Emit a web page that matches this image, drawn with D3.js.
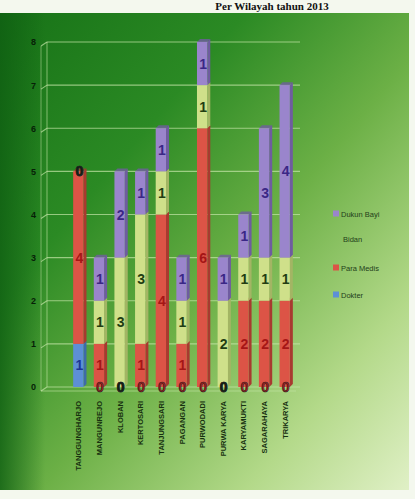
<!DOCTYPE html>
<html>
<head>
<meta charset="utf-8">
<script src="https://cdn.jsdelivr.net/npm/d3@7"></script>
<style>
  body { margin: 0; background: #fff; }
  svg { display: block; }
</style>
</head>
<body>
<div id="chart"></div>
<script>
// data
const categories = ["TANGGUNGHARJO", "MANGUNREJO", "KLOBAN", "KERTOSARI", "TANJUNGSARI",
  "PAGANGAN", "PURWODADI", "PURWA KARYA", "KARYAMUKTI", "SAGARAHAYA", "TRIKARYA"];
const seriesNames = ["Dokter", "Para Medis", "Bidan", "Dukun Bayi"];
const dokter    = [1, 0, 0, 0, 0, 0, 0, 0, 0, 0, 0];
const paraMedis = [4, 1, 0, 1, 4, 1, 6, 0, 2, 2, 2];
const bidan     = [0, 1, 3, 3, 1, 1, 1, 2, 1, 1, 1];
const dukunBayi = [0, 1, 2, 1, 1, 1, 1, 1, 1, 3, 4];
const yTicks = [0, 1, 2, 3, 4, 5, 6, 7, 8];
const title = "Per Wilayah tahun 2013";

const W = 415, H = 499;
const colors = ["#5d8fd6", "#dc5446", "#cfe08a", "#9a85cc"];
const sideColors = ["#3f6aa8", "#a83a30", "#a3b564", "#6f5ca0"];
const labelColors = ["#1b3596", "#a51616", "#213d12", "#3a2786"];

const svg = d3.select("#chart").append("svg")
  .attr("width", W).attr("height", H);

const defs = svg.append("defs");
const bg = defs.append("linearGradient").attr("id", "bg")
  .attr("x1", 0).attr("y1", 0).attr("x2", 1).attr("y2", 1);
bg.append("stop").attr("offset", 0).attr("stop-color", "#177217");
bg.append("stop").attr("offset", 0.3).attr("stop-color", "#2b8a24");
bg.append("stop").attr("offset", 0.55).attr("stop-color", "#6cb046");
bg.append("stop").attr("offset", 0.8).attr("stop-color", "#b3d989");
bg.append("stop").attr("offset", 1).attr("stop-color", "#e0f0c6");

const shade = defs.append("linearGradient").attr("id", "shade")
  .attr("x1", 0).attr("y1", 0).attr("x2", 1).attr("y2", 0);
shade.append("stop").attr("offset", 0).attr("stop-color", "#0f5f12").attr("stop-opacity", 0.8);
shade.append("stop").attr("offset", 1).attr("stop-color", "#0f5f12").attr("stop-opacity", 0);

svg.append("rect").attr("x", 0).attr("y", 0).attr("width", W).attr("height", H).attr("fill", "#f4f8ee");
svg.append("rect").attr("x", 0).attr("y", 13).attr("width", 409).attr("height", 477).attr("fill", "url(#bg)");
svg.append("rect").attr("x", 0).attr("y", 13).attr("width", 45).attr("height", 477).attr("fill", "url(#shade)");

// title in the white strip at the top
svg.append("text")
  .attr("x", 272).attr("y", 10)
  .attr("text-anchor", "middle")
  .attr("font-family", "Liberation Serif")
  .attr("font-size", 11).attr("font-weight", "bold")
  .attr("fill", "#111")
  .text(title);

const x = d3.scaleBand().domain(categories).range([68, 295]).paddingInner(0.5).paddingOuter(0.25);
const y = d3.scaleLinear().domain([0, 8]).range([387, 42]);
const depth = 4;

// back wall gridlines with a 3D slant on the left
const grid = svg.append("g");
grid.selectAll(".gl").data(yTicks).enter().append("line")
  .attr("x1", 47).attr("x2", 300)
  .attr("y1", d => y(d)).attr("y2", d => y(d))
  .attr("stroke", "#c4e6a8").attr("stroke-opacity", 0.7).attr("stroke-width", 1.2);
grid.selectAll(".gs").data(yTicks).enter().append("line")
  .attr("x1", 41).attr("x2", 47)
  .attr("y1", d => y(d) + depth).attr("y2", d => y(d))
  .attr("stroke", "#c4e6a8").attr("stroke-opacity", 0.7).attr("stroke-width", 1.2);
grid.append("line").attr("x1", 47).attr("x2", 47).attr("y1", y(8)).attr("y2", y(0))
  .attr("stroke", "#c4e6a8").attr("stroke-opacity", 0.6);
grid.append("line").attr("x1", 41).attr("x2", 41).attr("y1", y(8) + depth).attr("y2", y(0) + depth)
  .attr("stroke", "#c4e6a8").attr("stroke-opacity", 0.5);
grid.append("line").attr("x1", 41).attr("x2", 296).attr("y1", y(0) + depth).attr("y2", y(0) + depth)
  .attr("stroke", "#c4e6a8").attr("stroke-opacity", 0.6);

// y axis
const yAxis = d3.axisLeft(y).tickValues(yTicks).tickSize(0).tickFormat(d3.format("d"));
const ya = svg.append("g").attr("transform", "translate(39,0)").call(yAxis);
ya.select(".domain").remove();
ya.selectAll("text").attr("font-family", "Liberation Sans").attr("font-size", 9)
  .attr("font-weight", "bold").attr("fill", "#071f07");

// stacked data
const rows = categories.map((c, i) => ({
  cat: c, Dokter: dokter[i], "Para Medis": paraMedis[i], Bidan: bidan[i], "Dukun Bayi": dukunBayi[i]
}));
const stacked = d3.stack().keys(seriesNames)(rows);

const bw = x.bandwidth();
const bars = svg.append("g");
stacked.forEach((s, si) => {
  const g = bars.append("g");
  s.forEach(d => {
    if (d[1] - d[0] <= 0) return;
    const x0 = x(d.data.cat), yt = y(d[1]), yb = y(d[0]);
    // side face
    g.append("path")
      .attr("d", `M${x0 + bw},${yb} L${x0 + bw + 3},${yb - 3} L${x0 + bw + 3},${yt - 3} L${x0 + bw},${yt} Z`)
      .attr("fill", sideColors[si]);
    // top face
    g.append("path")
      .attr("d", `M${x0},${yt} L${x0 + 3},${yt - 3} L${x0 + bw + 3},${yt - 3} L${x0 + bw},${yt} Z`)
      .attr("fill", sideColors[si]).attr("opacity", 0.8);
    g.append("rect")
      .attr("x", x0).attr("y", yt).attr("width", bw).attr("height", yb - yt)
      .attr("fill", colors[si]);
  });
});

// data labels
const labels = [];
stacked.forEach((s, si) => {
  s.forEach((d, ci) => {
    const v = d[1] - d[0];
    labels.push({ si, ci, v, pos: v === 0 ? y(d[0]) : y((d[0] + d[1]) / 2) });
  });
});
labels.forEach(l => {
  l.stack = labels.filter(o => o.ci === l.ci && o.v === 0 && l.v === 0 && Math.abs(o.pos - l.pos) < 1).length;
});
svg.append("g").selectAll("text").data(labels).enter().append("text")
  .attr("x", d => x(categories[d.ci]) + bw / 2 + 1)
  .attr("y", d => d.pos)
  .attr("dy", "0.36em")
  .attr("text-anchor", "middle")
  .attr("font-family", "Liberation Sans").attr("font-size", 14).attr("font-weight", "bold")
  .attr("fill", d => d.v !== 0 ? labelColors[d.si] : (d.stack > 1 ? "#0d1f0d" : "#a51616"))
  .attr("stroke", d => d.v === 0 ? "#2a2a2a" : "none").attr("stroke-width", 0.6)
  .text(d => d.v);

// category labels, rotated
svg.append("g").selectAll("text").data(categories).enter().append("text")
  .attr("transform", d => `translate(${x(d) + bw / 2 + 3},401) rotate(-90)`)
  .attr("text-anchor", "end")
  .attr("font-family", "Liberation Sans").attr("font-size", 7.5).attr("font-weight", "bold")
  .attr("fill", "#173010")
  .text(d => d);

// legend
const legendOrder = [3, 2, 1, 0];
const legendY = [214, 239, 268, 295];
const lg = svg.append("g");
legendOrder.forEach((si, k) => {
  if (si !== 2) {
    lg.append("rect").attr("x", 333).attr("y", legendY[k] - 3.5).attr("width", 6).attr("height", 6)
      .attr("fill", colors[si]);
  }
  lg.append("text").attr("x", si === 2 ? 343 : 341).attr("y", legendY[k])
    .attr("dy", "0.35em")
    .attr("font-family", "Liberation Sans").attr("font-size", 7.5)
    .attr("fill", "#23401a")
    .text(seriesNames[si]);
});
</script>
</body>
</html>
